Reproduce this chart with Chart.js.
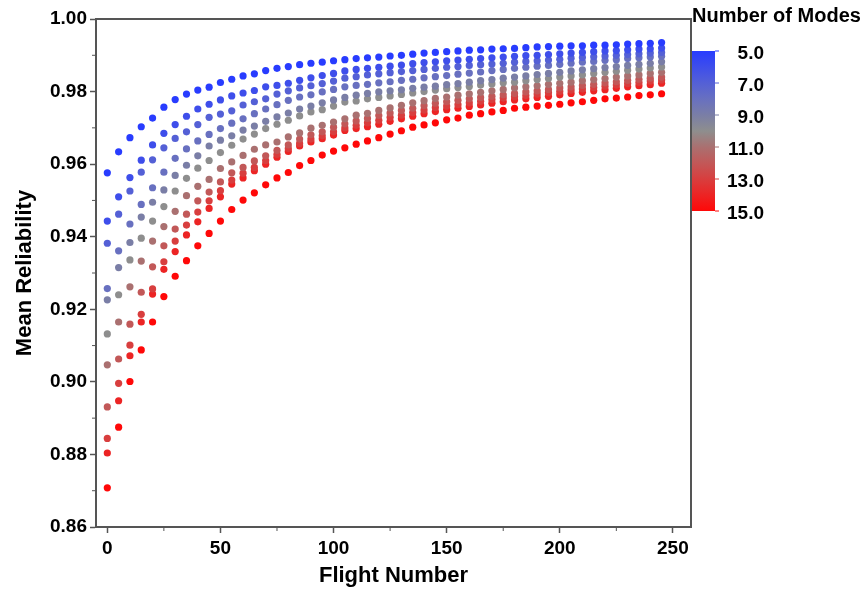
<!DOCTYPE html>
<html>
<head>
<meta charset="utf-8">
<script src="https://cdn.jsdelivr.net/npm/chart.js@4.4.1/dist/chart.umd.min.js"></script>
<style>
  body { margin: 0; background: #fff; }
  #wrap { width: 865px; height: 589px; }
</style>
</head>
<body>
<div id="wrap"><canvas id="newGraph" width="865" height="589"></canvas></div>
<script>
const flights = [0, 5, 10, 15, 20, 25, 30, 35, 40, 45, 50, 55, 60, 65, 70, 75, 80, 85, 90, 95,
  100, 105, 110, 115, 120, 125, 130, 135, 140, 145, 150, 155, 160, 165, 170, 175, 180, 185, 190, 195,
  200, 205, 210, 215, 220, 225, 230, 235, 240, 245];
const modes = [5, 6, 7, 8, 9, 10, 11, 12, 13, 14, 15];

const rel5 = [0.9576, 0.9634, 0.9673, 0.9703, 0.9727, 0.9757, 0.9778, 0.9793, 0.9804, 0.9812,
  0.9825, 0.9834, 0.9843, 0.9849, 0.9858, 0.9864, 0.9869, 0.9874, 0.9878, 0.9881,
  0.9885, 0.9888, 0.9891, 0.9893, 0.9895, 0.9898, 0.9900, 0.9903, 0.9906, 0.9908,
  0.9910, 0.9912, 0.9914, 0.9915, 0.9917, 0.9918, 0.9919, 0.9921, 0.9923, 0.9924,
  0.9925, 0.9926, 0.9926, 0.9928, 0.9928, 0.9929, 0.9931, 0.9932, 0.9933, 0.9935];
const rel6 = [0.9443, 0.9510, 0.9563, 0.9611, 0.9653, 0.9685, 0.9709, 0.9732, 0.9752, 0.9765,
  0.9777, 0.9788, 0.9796, 0.9803, 0.9813, 0.9817, 0.9823, 0.9831, 0.9838, 0.9844,
  0.9850, 0.9857, 0.9861, 0.9864, 0.9867, 0.9870, 0.9873, 0.9877, 0.9880, 0.9882,
  0.9885, 0.9887, 0.9889, 0.9891, 0.9893, 0.9895, 0.9897, 0.9899, 0.9900, 0.9902,
  0.9904, 0.9906, 0.9908, 0.9910, 0.9912, 0.9913, 0.9915, 0.9917, 0.9918, 0.9920];
const rel7 = [0.9382, 0.9462, 0.9526, 0.9578, 0.9612, 0.9645, 0.9671, 0.9689, 0.9709, 0.9729,
  0.9738, 0.9747, 0.9763, 0.9772, 0.9780, 0.9793, 0.9802, 0.9810, 0.9816, 0.9822,
  0.9829, 0.9837, 0.9841, 0.9846, 0.9849, 0.9852, 0.9855, 0.9858, 0.9861, 0.9864,
  0.9867, 0.9869, 0.9872, 0.9874, 0.9876, 0.9878, 0.9881, 0.9883, 0.9885, 0.9887,
  0.9889, 0.9892, 0.9894, 0.9896, 0.9898, 0.9900, 0.9902, 0.9904, 0.9906, 0.9908];
const rel8 = [0.9257, 0.9361, 0.9435, 0.9489, 0.9535, 0.9578, 0.9616, 0.9642, 0.9664, 0.9682,
  0.9698, 0.9713, 0.9725, 0.9739, 0.9752, 0.9764, 0.9776, 0.9785, 0.9791, 0.9799,
  0.9806, 0.9813, 0.9817, 0.9820, 0.9824, 0.9827, 0.9831, 0.9834, 0.9838, 0.9841,
  0.9844, 0.9848, 0.9851, 0.9854, 0.9858, 0.9861, 0.9864, 0.9867, 0.9870, 0.9872,
  0.9875, 0.9878, 0.9881, 0.9883, 0.9886, 0.9888, 0.9891, 0.9893, 0.9895, 0.9897];
const rel9 = [0.9226, 0.9315, 0.9384, 0.9454, 0.9495, 0.9529, 0.9569, 0.9597, 0.9623, 0.9650,
  0.9666, 0.9678, 0.9694, 0.9705, 0.9718, 0.9730, 0.9741, 0.9752, 0.9760, 0.9769,
  0.9777, 0.9784, 0.9790, 0.9795, 0.9799, 0.9802, 0.9805, 0.9809, 0.9812, 0.9815,
  0.9819, 0.9822, 0.9826, 0.9830, 0.9833, 0.9837, 0.9840, 0.9843, 0.9847, 0.9850,
  0.9853, 0.9857, 0.9860, 0.9863, 0.9866, 0.9869, 0.9872, 0.9875, 0.9878, 0.9882];
const rel10 = [0.9132, 0.9240, 0.9336, 0.9396, 0.9443, 0.9483, 0.9526, 0.9561, 0.9589, 0.9610,
  0.9632, 0.9652, 0.9669, 0.9683, 0.9698, 0.9710, 0.9721, 0.9733, 0.9744, 0.9750,
  0.9760, 0.9771, 0.9774, 0.9780, 0.9784, 0.9788, 0.9792, 0.9796, 0.9800, 0.9804,
  0.9808, 0.9811, 0.9814, 0.9818, 0.9821, 0.9824, 0.9826, 0.9830, 0.9833, 0.9836,
  0.9840, 0.9843, 0.9846, 0.9850, 0.9853, 0.9856, 0.9859, 0.9862, 0.9865, 0.9868];
const rel11 = [0.9047, 0.9165, 0.9262, 0.9333, 0.9388, 0.9428, 0.9470, 0.9513, 0.9539, 0.9558,
  0.9588, 0.9606, 0.9624, 0.9641, 0.9653, 0.9661, 0.9675, 0.9686, 0.9699, 0.9707,
  0.9716, 0.9725, 0.9735, 0.9740, 0.9748, 0.9755, 0.9762, 0.9769, 0.9775, 0.9781,
  0.9785, 0.9790, 0.9794, 0.9798, 0.9802, 0.9806, 0.9810, 0.9813, 0.9816, 0.9820,
  0.9823, 0.9826, 0.9830, 0.9833, 0.9836, 0.9840, 0.9843, 0.9846, 0.9850, 0.9853];
const rel12 = [0.8931, 0.9063, 0.9159, 0.9247, 0.9317, 0.9375, 0.9421, 0.9462, 0.9499, 0.9523,
  0.9551, 0.9576, 0.9591, 0.9609, 0.9623, 0.9638, 0.9653, 0.9669, 0.9681, 0.9689,
  0.9702, 0.9711, 0.9719, 0.9726, 0.9734, 0.9741, 0.9748, 0.9754, 0.9761, 0.9768,
  0.9772, 0.9776, 0.9780, 0.9784, 0.9787, 0.9791, 0.9795, 0.9799, 0.9802, 0.9806,
  0.9810, 0.9813, 0.9817, 0.9820, 0.9824, 0.9827, 0.9831, 0.9834, 0.9837, 0.9840];
const rel13 = [0.8844, 0.8996, 0.9101, 0.9186, 0.9256, 0.9331, 0.9388, 0.9432, 0.9468, 0.9499,
  0.9527, 0.9556, 0.9575, 0.9591, 0.9610, 0.9627, 0.9643, 0.9657, 0.9669, 0.9678,
  0.9689, 0.9700, 0.9707, 0.9714, 0.9721, 0.9729, 0.9735, 0.9742, 0.9749, 0.9756,
  0.9760, 0.9764, 0.9769, 0.9773, 0.9778, 0.9782, 0.9786, 0.9789, 0.9793, 0.9797,
  0.9800, 0.9804, 0.9807, 0.9811, 0.9815, 0.9818, 0.9822, 0.9825, 0.9829, 0.9832];
const rel14 = [0.8804, 0.8948, 0.9072, 0.9165, 0.9242, 0.9310, 0.9359, 0.9405, 0.9441, 0.9478,
  0.9510, 0.9545, 0.9562, 0.9582, 0.9600, 0.9619, 0.9635, 0.9650, 0.9661, 0.9670,
  0.9680, 0.9693, 0.9698, 0.9703, 0.9710, 0.9718, 0.9725, 0.9732, 0.9739, 0.9745,
  0.9750, 0.9754, 0.9759, 0.9763, 0.9768, 0.9772, 0.9777, 0.9780, 0.9784, 0.9787,
  0.9791, 0.9795, 0.9798, 0.9802, 0.9805, 0.9809, 0.9813, 0.9816, 0.9819, 0.9823];
const rel15 = [0.8708, 0.8875, 0.9001, 0.9088, 0.9165, 0.9235, 0.9291, 0.9334, 0.9375, 0.9409,
  0.9443, 0.9475, 0.9501, 0.9521, 0.9543, 0.9562, 0.9577, 0.9596, 0.9610, 0.9625,
  0.9636, 0.9645, 0.9655, 0.9664, 0.9673, 0.9683, 0.9692, 0.9702, 0.9708, 0.9714,
  0.9722, 0.9727, 0.9735, 0.9739, 0.9744, 0.9748, 0.9754, 0.9757, 0.9760, 0.9762,
  0.9765, 0.9769, 0.9772, 0.9776, 0.9780, 0.9782, 0.9785, 0.9789, 0.9791, 0.9794];

const series = [rel5, rel6, rel7, rel8, rel9, rel10, rel11, rel12, rel13, rel14, rel15];

const xTicks = [0, 50, 100, 150, 200, 250];
const xMinor = [25, 75, 125, 175, 225];
const yTicks = [0.86, 0.88, 0.90, 0.92, 0.94, 0.96, 0.98, 1.00];
const yMinor = [0.87, 0.89, 0.91, 0.93, 0.95, 0.97, 0.99];
const barLabels = ['5.0', '7.0', '9.0', '11.0', '13.0', '15.0'];
const barValues = [5, 7, 9, 11, 13, 15];

// blue -> grey -> red, one per mode
const modeColors = ['rgb(40,60,255)', 'rgb(62,78,235)', 'rgb(84,96,214)', 'rgb(104,112,192)',
  'rgb(122,126,166)', 'rgb(142,142,142)', 'rgb(170,112,112)', 'rgb(194,88,88)',
  'rgb(216,62,62)', 'rgb(236,36,36)', 'rgb(255,8,8)'];

const FONT = "'Liberation Sans', Arial, sans-serif";
const AXIS = '#555';

const datasets = modes.map(function(m, i) {
  return {
    label: m + ' modes',
    data: flights.map(function(f, j) { return {x: f, y: series[i][j]}; }),
    backgroundColor: modeColors[i],
    pointRadius: 3.6,
    pointBorderWidth: 0,
    showLine: false
  };
});

// frame, minor ticks and the colour scale on the right
const extras = {
  id: 'extras',
  afterDraw(chart) {
    const ctx = chart.ctx;
    const a = chart.chartArea;
    const x = chart.scales.x, y = chart.scales.y;
    ctx.save();
    ctx.strokeStyle = AXIS;
    ctx.lineWidth = 2;
    ctx.strokeRect(a.left, a.top, a.right - a.left, a.bottom - a.top);

    ctx.lineWidth = 1;
    ctx.beginPath();
    xMinor.forEach(function(v) {
      const px = x.getPixelForValue(v);
      ctx.moveTo(px, a.bottom); ctx.lineTo(px, a.bottom + 4);
    });
    yMinor.forEach(function(v) {
      const py = y.getPixelForValue(v);
      ctx.moveTo(a.left, py); ctx.lineTo(a.left - 4, py);
    });
    ctx.stroke();

    const barL = 692, barR = 715, barT = 51, barB = 211;
    const grad = ctx.createLinearGradient(0, barT, 0, barB);
    modes.forEach(function(m, i) { grad.addColorStop((m - 5) / 10, modeColors[i]); });
    ctx.fillStyle = grad;
    ctx.fillRect(barL, barT, barR - barL, barB - barT);

    ctx.font = 'bold 20px ' + FONT;
    ctx.fillStyle = '#000';
    ctx.textBaseline = 'middle';
    ctx.textAlign = 'left';
    ctx.fillText('Number of Modes', 692, 16);

    ctx.font = 'bold 19px ' + FONT;
    ctx.textAlign = 'right';
    barValues.forEach(function(v, i) {
      const py = barT + (v - 5) / 10 * (barB - barT);
      ctx.strokeStyle = modeColors[v - 5];
      ctx.beginPath(); ctx.moveTo(barR, py); ctx.lineTo(barR + 4, py); ctx.stroke();
      ctx.fillText(barLabels[i], 764, py + 3);
    });
    ctx.restore();
  }
};

const ctx = document.getElementById('newGraph');

new Chart(ctx, {
  type: 'scatter',
  data: { datasets: datasets },
  plugins: [extras],
  options: {
    responsive: false,
    animation: false,
    layout: { padding: { left: 0, top: 19, right: 174, bottom: 0 } },
    plugins: { legend: { display: false }, tooltip: { enabled: false } },
    scales: {
      x: {
        type: 'linear',
        min: -5,
        max: 258,
        afterBuildTicks: function(s) { s.ticks = xTicks.map(function(v) { return {value: v}; }); },
        afterFit: function(s) { s.height = 62; },
        grid: { drawOnChartArea: false, tickLength: 6, tickColor: AXIS, tickWidth: 1.5 },
        border: { color: AXIS, width: 2 },
        ticks: { color: '#000', padding: 4, maxRotation: 0, font: { family: FONT, size: 19, weight: 'bold' } },
        title: { display: true, text: 'Flight Number', color: '#000', padding: { top: 0, bottom: 0 },
          font: { family: FONT, size: 22, weight: 'bold' } }
      },
      y: {
        min: 0.86,
        max: 1.0,
        afterBuildTicks: function(s) { s.ticks = yTicks.map(function(v) { return {value: v}; }); },
        afterFit: function(s) { s.width = 96; },
        grid: { drawOnChartArea: false, tickLength: 6, tickColor: AXIS, tickWidth: 1.5 },
        border: { color: AXIS, width: 2 },
        ticks: { color: '#000', padding: 3, font: { family: FONT, size: 19, weight: 'bold' },
          callback: function(v) { return v.toFixed(2); } },
        title: { display: true, text: 'Mean Reliability', color: '#000', padding: { top: 12 },
          font: { family: FONT, size: 22, weight: 'bold' } }
      }
    }
  }
});
</script>
</body>
</html>
